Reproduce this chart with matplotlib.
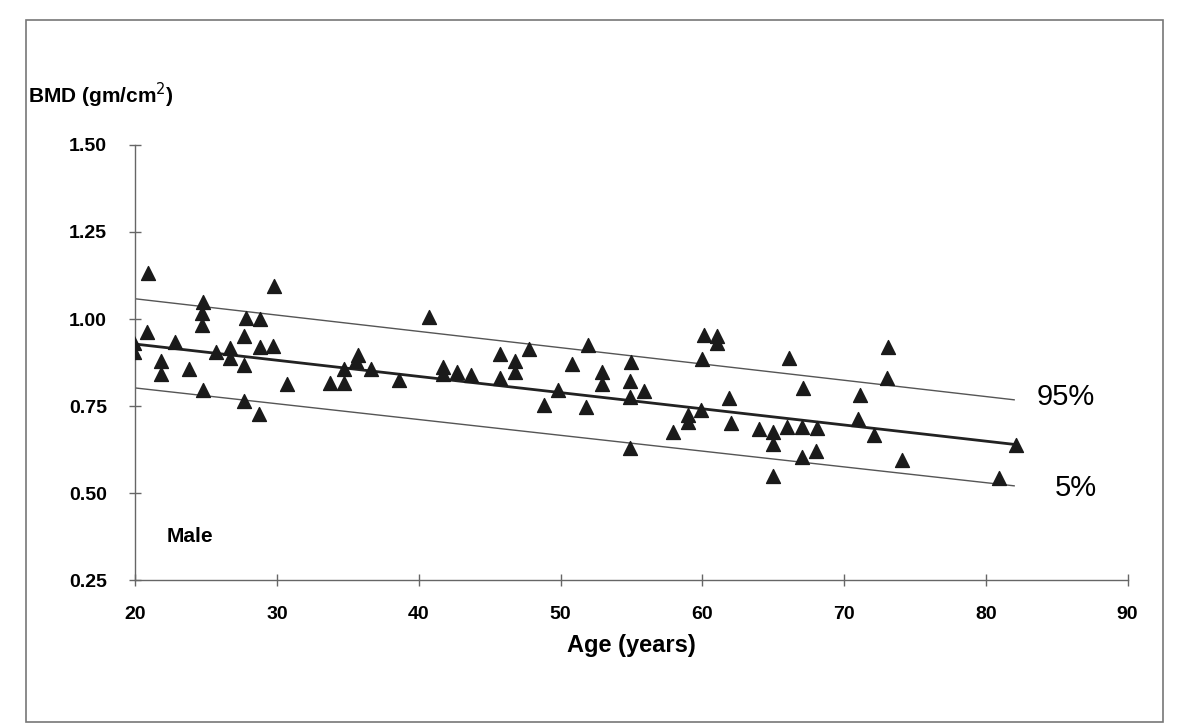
import matplotlib
matplotlib.use("Agg")
import matplotlib.pyplot as plt
from matplotlib.patches import Rectangle

plt.rcParams['font.family'] = ['Liberation Sans', 'DejaVu Sans']

# measured BMD values, male subjects
age = [19.9, 19.9, 20.9, 20.8, 21.8, 21.8, 22.8, 23.8, 24.8, 24.7, 24.7, 24.8,
       25.7, 26.7, 26.7, 27.7, 27.8, 27.7, 27.7, 28.8, 28.8, 28.7, 29.7, 29.8,
       30.7, 33.7, 34.7, 34.7, 35.7, 35.6, 36.6, 38.6, 40.7, 41.7, 41.7, 42.7,
       43.7, 45.7, 45.7, 46.8, 46.8, 47.8, 48.8, 49.8, 50.8, 51.9, 51.8, 52.9,
       52.9, 55.0, 54.9, 54.9, 54.9, 55.9, 57.9, 59.0, 59.0, 60.1, 60.0, 59.9,
       61.0, 61.0, 61.9, 62.0, 64.0, 65.0, 65.0, 65.0, 66.1, 66.0, 67.1, 67.0,
       67.0, 68.1, 68.0, 71.1, 71.0, 72.1, 73.1, 73.0, 74.1, 80.9, 82.1]
bmd = [0.931, 0.905, 1.131, 0.962, 0.880, 0.843, 0.933, 0.857, 1.049, 1.017,
       0.983, 0.796, 0.904, 0.917, 0.888, 0.867, 1.002, 0.950, 0.764, 1.001,
       0.920, 0.728, 0.922, 1.094, 0.812, 0.817, 0.856, 0.815, 0.898, 0.878,
       0.856, 0.825, 1.006, 0.861, 0.841, 0.849, 0.839, 0.899, 0.830, 0.878,
       0.849, 0.914, 0.752, 0.797, 0.870, 0.926, 0.748, 0.847, 0.813, 0.876,
       0.822, 0.776, 0.629, 0.792, 0.677, 0.725, 0.705, 0.954, 0.885, 0.738,
       0.952, 0.932, 0.773, 0.701, 0.684, 0.677, 0.640, 0.548, 0.889, 0.690,
       0.801, 0.689, 0.603, 0.688, 0.622, 0.782, 0.713, 0.666, 0.920, 0.831,
       0.594, 0.543, 0.639]

# regression line and percentile bounds (end points)
line_age = [20, 82]
mean_line = [0.928, 0.640]
p95_line = [1.058, 0.768]
p5_line = [0.802, 0.521]

fig = plt.figure(figsize=(11.77, 7.28), dpi=100)
ax = fig.add_axes([0.115, 0.203, 0.843, 0.598])

ax.plot(line_age, p95_line, color='#555555', linewidth=1.0)
ax.plot(line_age, p5_line, color='#555555', linewidth=1.0)
ax.plot(line_age, mean_line, color='#222222', linewidth=2.0)
ax.scatter(age, bmd, marker='^', s=100, color='#1a1a1a', zorder=3)

ax.set_xlim(20, 90)
ax.set_ylim(0.25, 1.50)
ax.set_xticks(range(20, 91, 10))
ax.set_yticks([0.25, 0.50, 0.75, 1.00, 1.25, 1.50])
ax.set_yticklabels(['0.25', '0.50', '0.75', '1.00', '1.25', '1.50'])

for s in ['top', 'right']:
    ax.spines[s].set_visible(False)
for s in ['left', 'bottom']:
    ax.spines[s].set_color('#666666')
    ax.spines[s].set_linewidth(1.0)

ax.tick_params(axis='both', direction='inout', length=9, width=1, color='#666666',
               labelsize=14)
ax.tick_params(axis='x', pad=14)
ax.tick_params(axis='y', pad=16)
for lab in ax.get_xticklabels() + ax.get_yticklabels():
    lab.set_fontweight('bold')

ax.set_xlabel('Age (years)', fontsize=17, fontweight='bold', labelpad=8)

fig.text(0.024, 0.858, 'BMD (gm/cm$^2$)', fontsize=15, fontweight='bold')
ax.text(22.2, 0.36, 'Male', fontsize=15, fontweight='bold')
ax.text(83.6, 0.775, '95%', fontsize=21, va='center')
ax.text(84.9, 0.514, '5%', fontsize=21, va='center')

fig.patches.append(Rectangle((0.022, 0.008), 0.966, 0.965, transform=fig.transFigure,
                             fill=False, edgecolor='#777777', linewidth=1.2))

fig.savefig('out.png', dpi=100)
